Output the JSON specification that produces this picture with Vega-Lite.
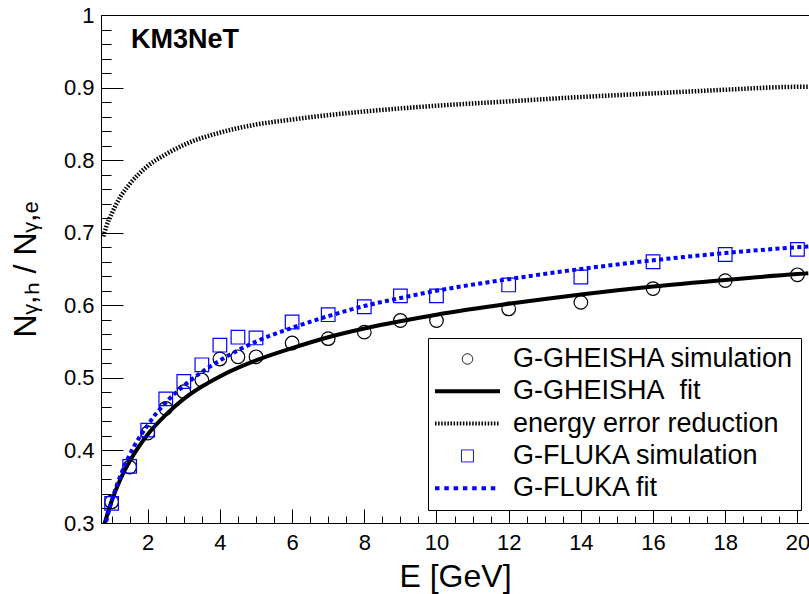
{
  "$schema": "https://vega.github.io/schema/vega-lite/v6.json",
  "width": 708,
  "height": 508,
  "autosize": {"type": "none"},
  "padding": {"left": 101, "top": 15, "right": 0, "bottom": 71},
  "background": "white",
  "config": {"view": {"stroke": "#000", "strokeWidth": 1}, "font": "Liberation Sans"},
  "title": {"text": "KM3NeT", "anchor": "start", "frame": "group", "orient": "top", "offset": -71, "dx": 30, "baseline": "alphabetic", "font": "Liberation Sans", "fontSize": 27, "fontWeight": "bold", "color": "#000"},
  "datasets": {
    "sims": [
      {"series": "G-GHEISHA simulation", "E": 1, "ratio": 0.329},
      {"series": "G-GHEISHA simulation", "E": 1.5, "ratio": 0.377},
      {"series": "G-GHEISHA simulation", "E": 2, "ratio": 0.424},
      {"series": "G-GHEISHA simulation", "E": 2.5, "ratio": 0.458},
      {"series": "G-GHEISHA simulation", "E": 3, "ratio": 0.481},
      {"series": "G-GHEISHA simulation", "E": 3.5, "ratio": 0.497},
      {"series": "G-GHEISHA simulation", "E": 4, "ratio": 0.526},
      {"series": "G-GHEISHA simulation", "E": 4.5, "ratio": 0.529},
      {"series": "G-GHEISHA simulation", "E": 5, "ratio": 0.529},
      {"series": "G-GHEISHA simulation", "E": 6, "ratio": 0.548},
      {"series": "G-GHEISHA simulation", "E": 7, "ratio": 0.554},
      {"series": "G-GHEISHA simulation", "E": 8, "ratio": 0.563},
      {"series": "G-GHEISHA simulation", "E": 9, "ratio": 0.579},
      {"series": "G-GHEISHA simulation", "E": 10, "ratio": 0.579},
      {"series": "G-GHEISHA simulation", "E": 12, "ratio": 0.595},
      {"series": "G-GHEISHA simulation", "E": 14, "ratio": 0.604},
      {"series": "G-GHEISHA simulation", "E": 16, "ratio": 0.623},
      {"series": "G-GHEISHA simulation", "E": 18, "ratio": 0.634},
      {"series": "G-GHEISHA simulation", "E": 20, "ratio": 0.642},
      {"series": "G-FLUKA simulation", "E": 1, "ratio": 0.327},
      {"series": "G-FLUKA simulation", "E": 1.5, "ratio": 0.378},
      {"series": "G-FLUKA simulation", "E": 2, "ratio": 0.428},
      {"series": "G-FLUKA simulation", "E": 2.5, "ratio": 0.471},
      {"series": "G-FLUKA simulation", "E": 3, "ratio": 0.495},
      {"series": "G-FLUKA simulation", "E": 3.5, "ratio": 0.518},
      {"series": "G-FLUKA simulation", "E": 4, "ratio": 0.545},
      {"series": "G-FLUKA simulation", "E": 4.5, "ratio": 0.556},
      {"series": "G-FLUKA simulation", "E": 5, "ratio": 0.555},
      {"series": "G-FLUKA simulation", "E": 6, "ratio": 0.577},
      {"series": "G-FLUKA simulation", "E": 7, "ratio": 0.587},
      {"series": "G-FLUKA simulation", "E": 8, "ratio": 0.598},
      {"series": "G-FLUKA simulation", "E": 9, "ratio": 0.613},
      {"series": "G-FLUKA simulation", "E": 10, "ratio": 0.613},
      {"series": "G-FLUKA simulation", "E": 12, "ratio": 0.628},
      {"series": "G-FLUKA simulation", "E": 14, "ratio": 0.639},
      {"series": "G-FLUKA simulation", "E": 16, "ratio": 0.66},
      {"series": "G-FLUKA simulation", "E": 18, "ratio": 0.67},
      {"series": "G-FLUKA simulation", "E": 20, "ratio": 0.677}
    ],
    "fits": [
      {"series": "G-GHEISHA\u00a0 fit", "E": 0.8, "ratio": 0.298},
      {"series": "G-GHEISHA\u00a0 fit", "E": 0.9, "ratio": 0.315},
      {"series": "G-GHEISHA\u00a0 fit", "E": 1, "ratio": 0.33},
      {"series": "G-GHEISHA\u00a0 fit", "E": 1.25, "ratio": 0.361},
      {"series": "G-GHEISHA\u00a0 fit", "E": 1.5, "ratio": 0.385},
      {"series": "G-GHEISHA\u00a0 fit", "E": 2, "ratio": 0.422},
      {"series": "G-GHEISHA\u00a0 fit", "E": 2.5, "ratio": 0.449},
      {"series": "G-GHEISHA\u00a0 fit", "E": 3, "ratio": 0.471},
      {"series": "G-GHEISHA\u00a0 fit", "E": 3.5, "ratio": 0.488},
      {"series": "G-GHEISHA\u00a0 fit", "E": 4, "ratio": 0.502},
      {"series": "G-GHEISHA\u00a0 fit", "E": 5, "ratio": 0.524},
      {"series": "G-GHEISHA\u00a0 fit", "E": 6, "ratio": 0.541},
      {"series": "G-GHEISHA\u00a0 fit", "E": 7, "ratio": 0.556},
      {"series": "G-GHEISHA\u00a0 fit", "E": 8, "ratio": 0.568},
      {"series": "G-GHEISHA\u00a0 fit", "E": 9, "ratio": 0.578},
      {"series": "G-GHEISHA\u00a0 fit", "E": 10, "ratio": 0.587},
      {"series": "G-GHEISHA\u00a0 fit", "E": 12, "ratio": 0.602},
      {"series": "G-GHEISHA\u00a0 fit", "E": 14, "ratio": 0.615},
      {"series": "G-GHEISHA\u00a0 fit", "E": 16, "ratio": 0.626},
      {"series": "G-GHEISHA\u00a0 fit", "E": 18, "ratio": 0.635},
      {"series": "G-GHEISHA\u00a0 fit", "E": 20, "ratio": 0.643},
      {"series": "G-GHEISHA\u00a0 fit", "E": 20.3, "ratio": 0.644},
      {"series": "energy error reduction", "E": 0.77, "ratio": 0.695},
      {"series": "energy error reduction", "E": 0.85, "ratio": 0.708},
      {"series": "energy error reduction", "E": 1, "ratio": 0.726},
      {"series": "energy error reduction", "E": 1.25, "ratio": 0.75},
      {"series": "energy error reduction", "E": 1.5, "ratio": 0.767},
      {"series": "energy error reduction", "E": 2, "ratio": 0.792},
      {"series": "energy error reduction", "E": 2.5, "ratio": 0.808},
      {"series": "energy error reduction", "E": 3, "ratio": 0.821},
      {"series": "energy error reduction", "E": 4, "ratio": 0.838},
      {"series": "energy error reduction", "E": 5, "ratio": 0.849},
      {"series": "energy error reduction", "E": 6, "ratio": 0.856},
      {"series": "energy error reduction", "E": 7, "ratio": 0.862},
      {"series": "energy error reduction", "E": 8, "ratio": 0.867},
      {"series": "energy error reduction", "E": 10, "ratio": 0.875},
      {"series": "energy error reduction", "E": 12, "ratio": 0.881},
      {"series": "energy error reduction", "E": 14, "ratio": 0.887},
      {"series": "energy error reduction", "E": 16, "ratio": 0.892},
      {"series": "energy error reduction", "E": 18, "ratio": 0.897},
      {"series": "energy error reduction", "E": 20, "ratio": 0.901},
      {"series": "energy error reduction", "E": 20.3, "ratio": 0.901},
      {"series": "G-FLUKA fit", "E": 0.8, "ratio": 0.292},
      {"series": "G-FLUKA fit", "E": 0.9, "ratio": 0.312},
      {"series": "G-FLUKA fit", "E": 1, "ratio": 0.33},
      {"series": "G-FLUKA fit", "E": 1.25, "ratio": 0.366},
      {"series": "G-FLUKA fit", "E": 1.5, "ratio": 0.394},
      {"series": "G-FLUKA fit", "E": 2, "ratio": 0.435},
      {"series": "G-FLUKA fit", "E": 2.5, "ratio": 0.466},
      {"series": "G-FLUKA fit", "E": 3, "ratio": 0.489},
      {"series": "G-FLUKA fit", "E": 3.5, "ratio": 0.508},
      {"series": "G-FLUKA fit", "E": 4, "ratio": 0.524},
      {"series": "G-FLUKA fit", "E": 5, "ratio": 0.55},
      {"series": "G-FLUKA fit", "E": 6, "ratio": 0.569},
      {"series": "G-FLUKA fit", "E": 7, "ratio": 0.585},
      {"series": "G-FLUKA fit", "E": 8, "ratio": 0.599},
      {"series": "G-FLUKA fit", "E": 9, "ratio": 0.61},
      {"series": "G-FLUKA fit", "E": 10, "ratio": 0.62},
      {"series": "G-FLUKA fit", "E": 12, "ratio": 0.636},
      {"series": "G-FLUKA fit", "E": 14, "ratio": 0.65},
      {"series": "G-FLUKA fit", "E": 16, "ratio": 0.662},
      {"series": "G-FLUKA fit", "E": 18, "ratio": 0.672},
      {"series": "G-FLUKA fit", "E": 20, "ratio": 0.68},
      {"series": "G-FLUKA fit", "E": 20.3, "ratio": 0.681}
    ]
  },
  "layer": [
    {
      "data": {"name": "fits"},
      "transform": [{"filter": "datum.series === 'energy error reduction'"}],
      "mark": {"type": "line", "clip": true, "interpolate": "monotone", "strokeWidth": 4.5, "strokeDash": [1.5, 1.6]},
      "encoding": {
        "x": {
          "field": "E", "type": "quantitative",
          "scale": {"domain": [0.706, 20.32], "nice": false, "zero": false},
          "axis": {
            "title": "E [GeV]",
            "values": [1, 1.5, 2, 2.5, 3, 3.5, 4, 4.5, 5, 5.5, 6, 6.5, 7, 7.5, 8, 8.5, 9, 9.5, 10, 10.5, 11, 11.5, 12, 12.5, 13, 13.5, 14, 14.5, 15, 15.5, 16, 16.5, 17, 17.5, 18, 18.5, 19, 19.5, 20],
            "tickCount": {"expr": "100"},
            "format": "~g",
            "labelExpr": "datum.value % 2 === 0 ? datum.label : ''",
            "tickSize": {"condition": {"test": "datum.value % 2 === 0", "value": -14}, "value": -7},
            "labelPadding": 23,
            "labelFont": "Liberation Sans", "labelFontSize": 22, "labelColor": "#000",
            "labelOverlap": false, "labelFlush": false,
            "ticks": true, "tickColor": "#000", "tickWidth": 1, "tickOpacity": 1,
            "domainColor": "#000", "grid": false,
            "titleFont": "Liberation Sans", "titleFontSize": 32, "titleFontWeight": "normal", "titleColor": "#000",
            "titleBaseline": "alphabetic", "titleY": 63
          }
        },
        "y": {
          "field": "ratio", "type": "quantitative",
          "scale": {"domain": [0.3, 1.0], "nice": false, "zero": false},
          "axis": {
            "title": "Nᵧ,ₕ / Nᵧ,ₑ",
            "values": [0.3, 0.32, 0.34, 0.36, 0.38, 0.4, 0.42, 0.44, 0.46, 0.48, 0.5, 0.52, 0.54, 0.56, 0.58, 0.6, 0.62, 0.64, 0.66, 0.68, 0.7, 0.72, 0.74, 0.76, 0.78, 0.8, 0.82, 0.84, 0.86, 0.88, 0.9, 0.92, 0.94, 0.96, 0.98, 1.0],
            "tickCount": {"expr": "100"},
            "format": ".1~f",
            "labelExpr": "abs(round(datum.value*10) - datum.value*10) < 0.000001 ? datum.label : ''",
            "tickSize": {"condition": {"test": "abs(round(datum.value*10) - datum.value*10) < 0.000001", "value": -22}, "value": -10},
            "labelPadding": 29,
            "labelFont": "Liberation Sans", "labelFontSize": 22, "labelColor": "#000",
            "labelOverlap": false, "labelFlush": false,
            "ticks": true, "tickColor": "#000", "tickWidth": 1, "tickOpacity": 1,
            "domainColor": "#000", "grid": false,
            "titleFont": "Liberation Sans", "titleFontSize": 32, "titleFontWeight": "normal", "titleColor": "#000",
            "titleBaseline": "alphabetic", "titleX": -66
          }
        },
        "color": {"field": "series", "type": "nominal",
          "scale": {"domain": ["G-GHEISHA simulation", "G-GHEISHA\u00a0 fit", "energy error reduction", "G-FLUKA simulation", "G-FLUKA fit"], "range": ["#000000", "#000000", "#000000", "#0000ff", "#0000ff"]},
          "legend": {
            "orient": "none", "legendX": 327, "legendY": 323, "title": null, "columns": 1,
            "padding": 7, "strokeColor": "#000", "fillColor": "#fff",
            "labelFont": "Liberation Sans", "labelFontSize": 27, "labelColor": "#000",
            "symbolOffset": 19, "labelOffset": 32, "labelLimit": 400,
            "rowPadding": 4.3, "clipHeight": 28, "symbolSize": 4225, "symbolType": "stroke",
            "encode": {"symbols": {"update": {
              "shape": {"signal": "datum.value === 'G-GHEISHA simulation' ? 'circle' : datum.value === 'G-FLUKA simulation' ? 'square' : 'stroke'"},
              "size": {"signal": "datum.value === 'G-GHEISHA simulation' ? 108 : datum.value === 'G-FLUKA simulation' ? 144 : 4225"},
              "strokeWidth": {"signal": "datum.value === 'G-GHEISHA simulation' || datum.value === 'G-FLUKA simulation' ? 1 : 4"},
              "strokeDash": {"signal": "datum.value === 'energy error reduction' ? [1.5, 1.6] : datum.value === 'G-FLUKA fit' ? [4.5, 4.8] : [1, 0]"},
              "fill": {"value": "transparent"},
              "stroke": {"scale": "color", "field": "value"},
              "opacity": {"value": 1}
            }}}
          }
        }
      }
    },
    {
      "data": {"name": "fits"},
      "transform": [{"filter": "datum.series === 'G-GHEISHA\u00a0 fit'"}],
      "mark": {"type": "line", "clip": true, "interpolate": "monotone", "strokeWidth": 4},
      "encoding": {
        "x": {"field": "E", "type": "quantitative"},
        "y": {"field": "ratio", "type": "quantitative"},
        "color": {"field": "series", "type": "nominal"}
      }
    },
    {
      "data": {"name": "sims"},
      "mark": {"type": "point", "filled": false, "clip": true, "size": 185, "strokeWidth": 1.2, "opacity": 1},
      "encoding": {
        "x": {"field": "E", "type": "quantitative"},
        "y": {"field": "ratio", "type": "quantitative"},
        "color": {"field": "series", "type": "nominal"},
        "shape": {"field": "series", "type": "nominal",
          "scale": {"domain": ["G-GHEISHA simulation", "G-FLUKA simulation"], "range": ["circle", "square"]},
          "legend": null}
      }
    },
    {
      "data": {"name": "fits"},
      "transform": [{"filter": "datum.series === 'G-FLUKA fit'"}],
      "mark": {"type": "line", "clip": true, "interpolate": "monotone", "strokeWidth": 4, "strokeDash": [4, 3.3]},
      "encoding": {
        "x": {"field": "E", "type": "quantitative"},
        "y": {"field": "ratio", "type": "quantitative"},
        "color": {"field": "series", "type": "nominal"}
      }
    }
  ]
}
